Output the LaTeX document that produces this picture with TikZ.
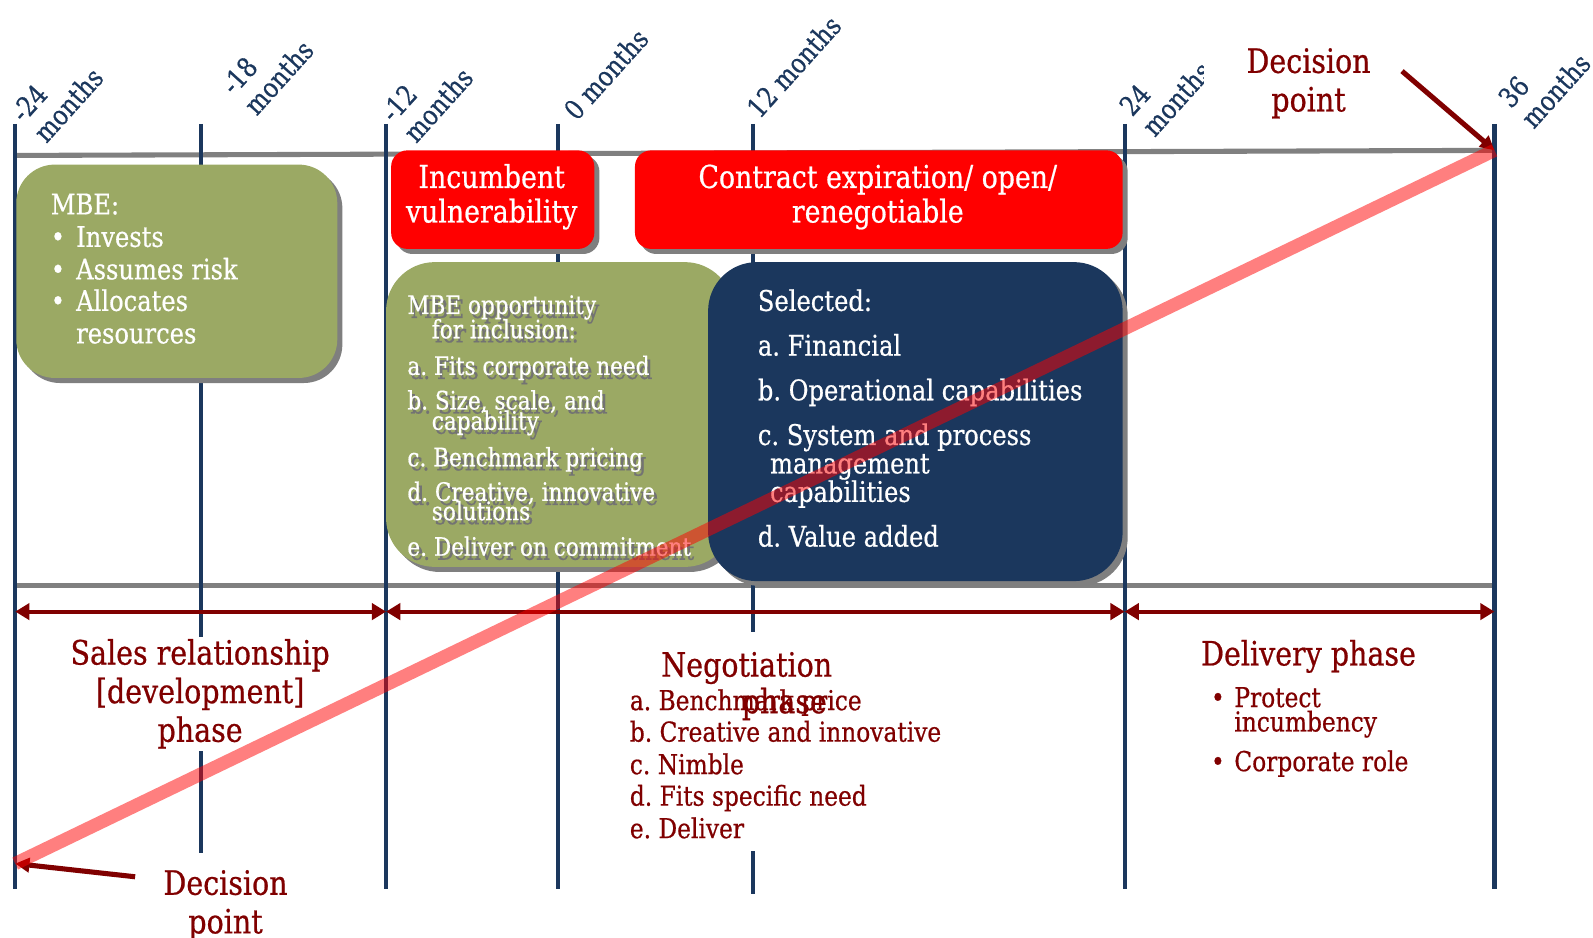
\documentclass[tikz,border=0pt]{standalone}
\usepackage{fontspec}
\setmainfont{DejaVu Serif}[FakeStretch=0.85,UprightFeatures={FakeBold=0.6}]
\usetikzlibrary{arrows.meta,shadows}
\definecolor{navy}{HTML}{1B375D}
\definecolor{olive}{HTML}{9BA964}
\definecolor{maroon}{HTML}{800000}
\definecolor{grayln}{HTML}{808080}
\definecolor{shade}{HTML}{7F7F7F}
\newcommand\shtext[4]{%
  \node[gtxtsh] at (#1+3,#2+4) {#4};
  \node[gtxt] (#3) at (#1,#2) {#4};}
\frenchspacing
\begin{document}
\begin{tikzpicture}[x=1pt,y=-1pt,
  every node/.style={inner sep=0pt, outer sep=0pt},
  vline/.style={navy, line width=4pt},
  hline/.style={grayln, line width=5pt},
  box/.style={rectangle, rounded corners=#1, draw=none,
    drop shadow={shadow xshift=5pt, shadow yshift=-5pt, fill=shade, opacity=1}},
  mlbl/.style={rotate=48, anchor=south west, align=left, text=navy,
    font=\fontsize{27}{30}\selectfont},
  wtxt/.style={anchor=base west, text=white, font=\fontsize{28}{32}\selectfont},
  btxt/.style={anchor=base west, text=white, font=\fontsize{28}{32}\selectfont},
  gtxt/.style={anchor=base west, text=white, font=\fontsize{25}{28}\selectfont},
  gtxtsh/.style={anchor=base west, text=black!55, font=\fontsize{25}{28}\selectfont},
  rtxt/.style={anchor=base, text=white, font=\fontsize{31}{34}\selectfont},
  mtitle/.style={text=maroon, font=\fontsize{33}{38}\selectfont},
  mlist/.style={anchor=base west, text=maroon, font=\fontsize{27}{31}\selectfont},
  phasearrow/.style={maroon, line width=4pt, {Triangle[length=14pt,width=16pt]}-{Triangle[length=14pt,width=16pt]}},
  decarrow/.style={maroon, line width=5pt, -{Triangle[length=14pt,width=14pt]}},
  band/.style={red, opacity=0.5, line width=13pt}
]
\useasboundingbox (0,0) rectangle (1568,923);

% grey horizontal lines
\coordinate (tl) at (15,153); \coordinate (tr) at (1471,148);
\coordinate (bl) at (15,576); \coordinate (br) at (1471,576);
\draw[hline] (tl) -- (tr);
\draw[hline] (bl) -- (br);

% vertical timeline lines
\foreach \n/\x/\yb in {a/15/875, b/198/840, c/380/875, d/549/875, e/741/880, f/1107/875, g/1471/875}{
  \coordinate (\n top) at (\x,122);
  \coordinate (\n bot) at (\x,\yb);
  \draw[vline] (\n top) -- (\n bot);
}

% month labels
\node[mlbl] (m24) at (46,142) {-24\\months};
\node[mlbl] (m18) at (253,115) {-18\\months};
\node[mlbl] (m12) at (410,142) {-12\\months};
\node[mlbl] (m0) at (568,120) {0 months};
\node[mlbl] (p12) at (748,118) {12 months};
\node[mlbl] (p24) at (1137,136) {24\\months};
\node[mlbl] (p36) at (1510,128) {36\\months};

% boxes
\node[box=38pt, fill=olive, minimum width=316pt, minimum height=210pt] (mbe) at (174,267) {};
\node[box=16pt, fill=red, minimum width=200pt, minimum height=97pt] (inc) at (485,196.5) {};
\node[box=16pt, fill=red, minimum width=480pt, minimum height=97pt] (con) at (865,196.5) {};
\node[box=48pt, fill=olive, minimum width=342pt, minimum height=300pt] (opp) at (551,408) {};
\node[box=48pt, fill=navy, minimum width=408pt, minimum height=314pt] (sel) at (901,415) {};

% box 1 text
\node[wtxt] (mbeh) at (50,211) {MBE:};
\node[wtxt] (mb1) at (50,243) {•};
\node[wtxt] (mt1) at (75,243) {Invests};
\node[wtxt] (mb2) at (50,275) {•};
\node[wtxt] (mt2) at (75,275) {Assumes risk};
\node[wtxt] (mb3) at (50,306) {•};
\node[wtxt] (mt3) at (75,306) {Allocates};
\node[wtxt] (mt4) at (75,338) {resources};

% red box text
\node[rtxt] (inc1) at (484,185) {Incumbent};
\node[rtxt] (inc2) at (484,219) {vulnerability};
\node[rtxt] (con1) at (864,185) {Contract expiration/ open/};
\node[rtxt] (con2) at (864,219) {renegotiable};

% box 2 text
\shtext{401}{309}{o1}{MBE opportunity}
\shtext{425}{333}{o2}{for inclusion:}
\shtext{401}{369}{o3}{a. Fits corporate need}
\shtext{401}{403}{o4}{b. Size, scale, and}
\shtext{425}{423}{o5}{capability}
\shtext{401}{459}{o6}{c. Benchmark pricing}
\shtext{401}{493}{o7}{d. Creative, innovative}
\shtext{425}{512}{o8}{solutions}
\shtext{401}{547}{o9}{e. Deliver on commitment}

% navy box text
\node[btxt] (s0) at (746,306) {Selected:};
\node[btxt] (s1) at (746,350) {a. Financial};
\node[btxt] (s2) at (746,394) {b. Operational capabilities};
\node[btxt] (s3) at (746,438) {c. System and process};
\node[btxt] (s4) at (758,466) {management};
\node[btxt] (s5) at (758,494) {capabilities};
\node[btxt] (s6) at (746,538) {d. Value added};

% phase arrows
\coordinate (pa) at (15,602); \coordinate (pb) at (380,602);
\coordinate (pc) at (1107,602); \coordinate (pd) at (1471,602);
\draw[phasearrow] (pa) -- (pb);
\draw[phasearrow] (pb) -- (pc);
\draw[phasearrow] (pc) -- (pd);

% phase labels
\node[mtitle, fill=white, align=center, inner ysep=2pt] (sales) at (197,683) {Sales relationship\\{[development]}\\phase};
\node[fill=white, minimum width=338pt, minimum height=216pt] (negbg) at (781,730) {};
\node[mtitle, anchor=base] (neg1) at (735,666) {Negotiation};
\node[mlist] (n1) at (620,699) {a. Benchmark price};
\node[mtitle, anchor=base] (neg2) at (772,702) {phase};
\node[mlist] (n2) at (620,730) {b. Creative and innovative};
\node[mlist] (n3) at (620,762) {c. Nimble};
\node[mlist] (n4) at (620,793) {d. Fits specific need};
\node[mlist] (n5) at (620,825) {e. Deliver};

\node[mtitle, anchor=base] (del) at (1288,655) {Delivery phase};
\node[mlist] (d1b) at (1192,696) {•};
\node[mlist] (d1) at (1215,696) {Protect};
\node[mlist] (d2) at (1215,720) {incumbency};
\node[mlist] (d3b) at (1192,759) {•};
\node[mlist] (d3) at (1215,759) {Corporate role};

% decision points
\node[mtitle, fill=white, align=center, minimum width=206pt, inner ysep=4pt] (dtop) at (1288,82) {Decision\\point};
\node[mtitle, align=center] (dbot) at (222,891) {Decision\\point};
\coordinate (dts) at (1380,70); \coordinate (dte) at (1471,148);
\coordinate (dbs) at (133,863); \coordinate (dbe) at (15,850);
\draw[decarrow] (dts) -- (dte);
\draw[decarrow] (dbs) -- (dbe);

% diagonal band
\draw[band] (dbe) -- (dte);
\end{tikzpicture}
\end{document}
